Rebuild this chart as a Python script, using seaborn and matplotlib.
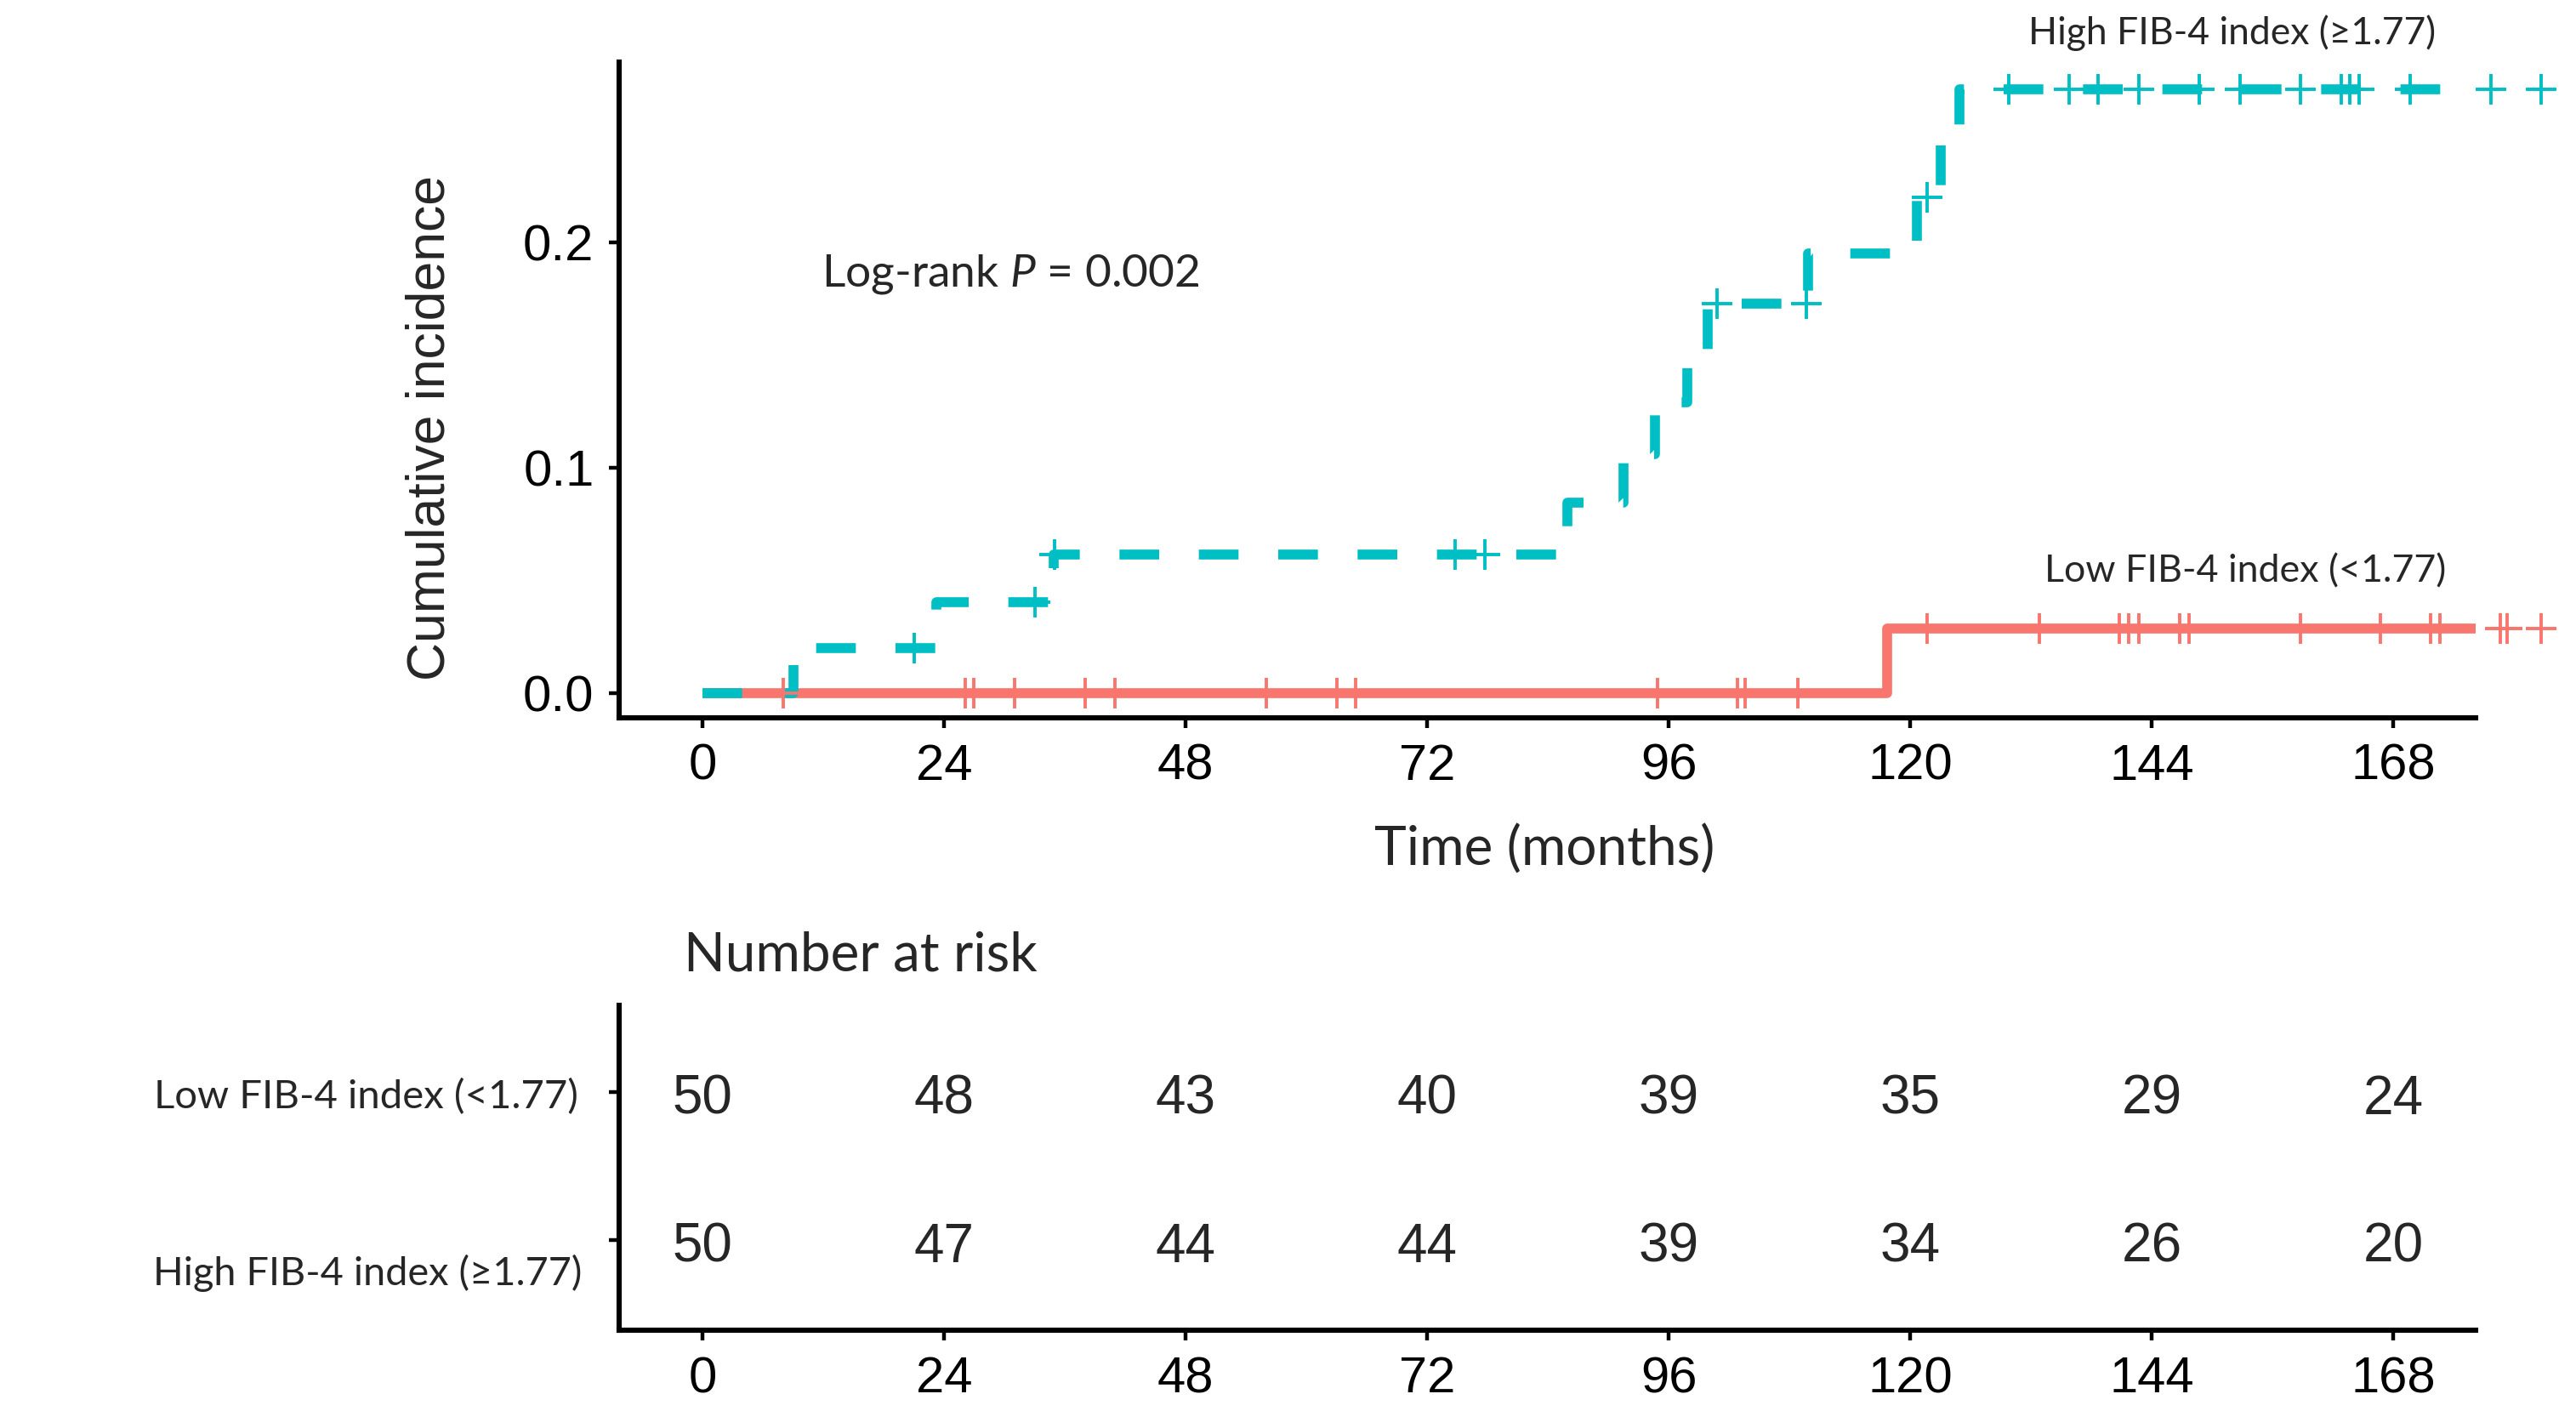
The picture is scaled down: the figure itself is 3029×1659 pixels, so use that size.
import numpy as np
import matplotlib
matplotlib.use("Agg")
import matplotlib.pyplot as plt
import matplotlib.transforms as mtransforms
import seaborn as sns

# --- data ---
months_ticks = [0, 24, 48, 72, 96, 120, 144, 168]

# High FIB-4 (cyan, dashed): step times and cumulative incidence after each step
high_time = [0, 9.0, 23.2, 34.9, 85.9, 91.5, 94.6, 97.8, 99.9, 109.8, 120.7, 123.0, 124.9]
high_cuminc = [0, 0.020, 0.0405, 0.0613, 0.0844, 0.106, 0.129, 0.152, 0.173, 0.195, 0.220, 0.243, 0.268]
high_censor = [21.0, 33.0, 35.0, 74.8, 77.7, 100.8, 109.7, 121.7, 129.8, 135.8, 138.7, 142.7,
               148.7, 152.8, 158.8, 162.8, 163.7, 164.6, 169.7, 177.7, 182.7]

# Low FIB-4 (red, solid)
low_time = [0, 117.7]
low_cuminc = [0, 0.0286]
low_censor = [8.0, 26.1, 26.9, 31.0, 38.0, 41.0, 56.0, 63.0, 64.9, 94.9, 102.8, 103.6, 108.8,
              121.7, 132.8, 140.8, 141.7, 142.7, 146.8, 147.7, 158.8, 166.7, 171.7, 172.6,
              178.6, 179.3, 182.7]

# number at risk
risk_low = [50, 48, 43, 40, 39, 35, 29, 24]
risk_high = [50, 47, 44, 44, 39, 34, 26, 20]

low_label = "Low FIB-4 index (<1.77)"
high_label = "High FIB-4 index (\u22651.77)"

RED = "#F8766D"
CYAN = "#00BFC4"

sns.set_style("ticks")
plt.rcParams["font.family"] = ["Liberation Sans", "DejaVu Sans"]
plt.rcParams["mathtext.fontset"] = "custom"
plt.rcParams["mathtext.rm"] = "Lato"
plt.rcParams["mathtext.it"] = "Lato:italic"

LABEL_FONT = ["Lato", "DejaVu Sans"]
NUM_FONT = ["Liberation Sans", "DejaVu Sans"]


def step_values(times, values, at):
    idx = np.searchsorted(times, at, side="right") - 1
    return np.asarray(values)[idx]


def style_axis(ax):
    for side in ["left", "bottom"]:
        ax.spines[side].set_linewidth(2.2)
        ax.spines[side].set_color("black")
    ax.tick_params(axis="both", length=4.2, width=1.6, pad=6.5, colors="black",
                   labelsize=21.5, direction="out")
    sns.despine(ax=ax)


fig = plt.figure(figsize=(15.145, 8.295), dpi=200)
ax = fig.add_axes([0.2404, 0.4913, 0.9611 - 0.2404, 0.9558 - 0.4913])
ax_risk = fig.add_axes([0.2404, 0.057, 0.9611 - 0.2404, 0.2875 - 0.057])

xlim = (-8.3, 176.2)

# curves, extended to last follow-up
for times, vals, cens, color, ls in [
    (low_time, low_cuminc, low_censor, RED, "-"),
    (high_time, high_cuminc, high_censor, CYAN, "--"),
]:
    end = max(cens)
    xs = list(times) + [end]
    ys = list(vals) + [vals[-1]]
    n_before = len(ax.lines)
    sns.lineplot(x=xs, y=ys, ax=ax, drawstyle="steps-post", color=color,
                 linewidth=4.2, sort=False, estimator=None)
    line = ax.lines[n_before]
    line.set_solid_capstyle("butt")
    if ls == "--":
        line.set_dashes((4, 4))
        line.set_dash_capstyle("butt")
    n_coll = len(ax.collections)
    sns.scatterplot(x=cens, y=step_values(times, vals, cens), ax=ax, marker="+",
                    s=170, color=color, linewidth=1.4, zorder=4)
    for c in ax.collections[n_coll:]:
        c.set_clip_on(False)

ax.set_xlim(*xlim)
ax.set_ylim(-0.011, 0.280)
ax.set_xticks(months_ticks)
ax.set_yticks([0, 0.1, 0.2])
ax.set_yticklabels(["0.0", "0.1", "0.2"])
ax.set_xlabel("")
ax.set_ylabel("")
style_axis(ax)

ax.text(11.8, 0.186, r"Log-rank $P$ = 0.002", fontsize=19.2, family=LABEL_FONT,
        ha="left", va="center")
ax.text(152.0, 0.293, high_label, fontsize=16.0, family=LABEL_FONT,
        ha="center", va="center", clip_on=False)
ax.text(153.3, 0.054, low_label, fontsize=16.1, family=LABEL_FONT,
        ha="center", va="center", clip_on=False)

fig.text(0.167, 0.697, "Cumulative incidence", rotation=90, fontsize=22.5,
         family=NUM_FONT, ha="center", va="center")
fig.text(0.5995, 0.398, "Time (months)", fontsize=23, family=LABEL_FONT,
         ha="center", va="center")
fig.text(0.2653, 0.3225, "Number at risk", fontsize=23, family=LABEL_FONT,
         ha="left", va="center")

# risk table (numbers nudged slightly down so digits sit centred on the row ticks)
nudge = mtransforms.offset_copy(ax_risk.transData, fig=fig, x=0, y=-3, units="points")
for x, n in zip(months_ticks, risk_low):
    ax_risk.text(x, 2, str(n), fontsize=23, family=NUM_FONT, ha="center", va="center",
                 transform=nudge)
for x, n in zip(months_ticks, risk_high):
    ax_risk.text(x, 1, str(n), fontsize=23, family=NUM_FONT, ha="center", va="center",
                 transform=nudge)

ax_risk.set_xlim(*xlim)
ax_risk.set_ylim(0.3888, 2.589)
ax_risk.set_xticks(months_ticks)
ax_risk.set_yticks([1, 2])
ax_risk.set_yticklabels(["", ""])
style_axis(ax_risk)

fig.text(0.2245, 0.2224, low_label, fontsize=17.0, family=LABEL_FONT,
         ha="right", va="center")
fig.text(0.2258, 0.0978, high_label, fontsize=16.9, family=LABEL_FONT,
         ha="right", va="center")

fig.savefig("out.png", dpi=200, facecolor="white")
